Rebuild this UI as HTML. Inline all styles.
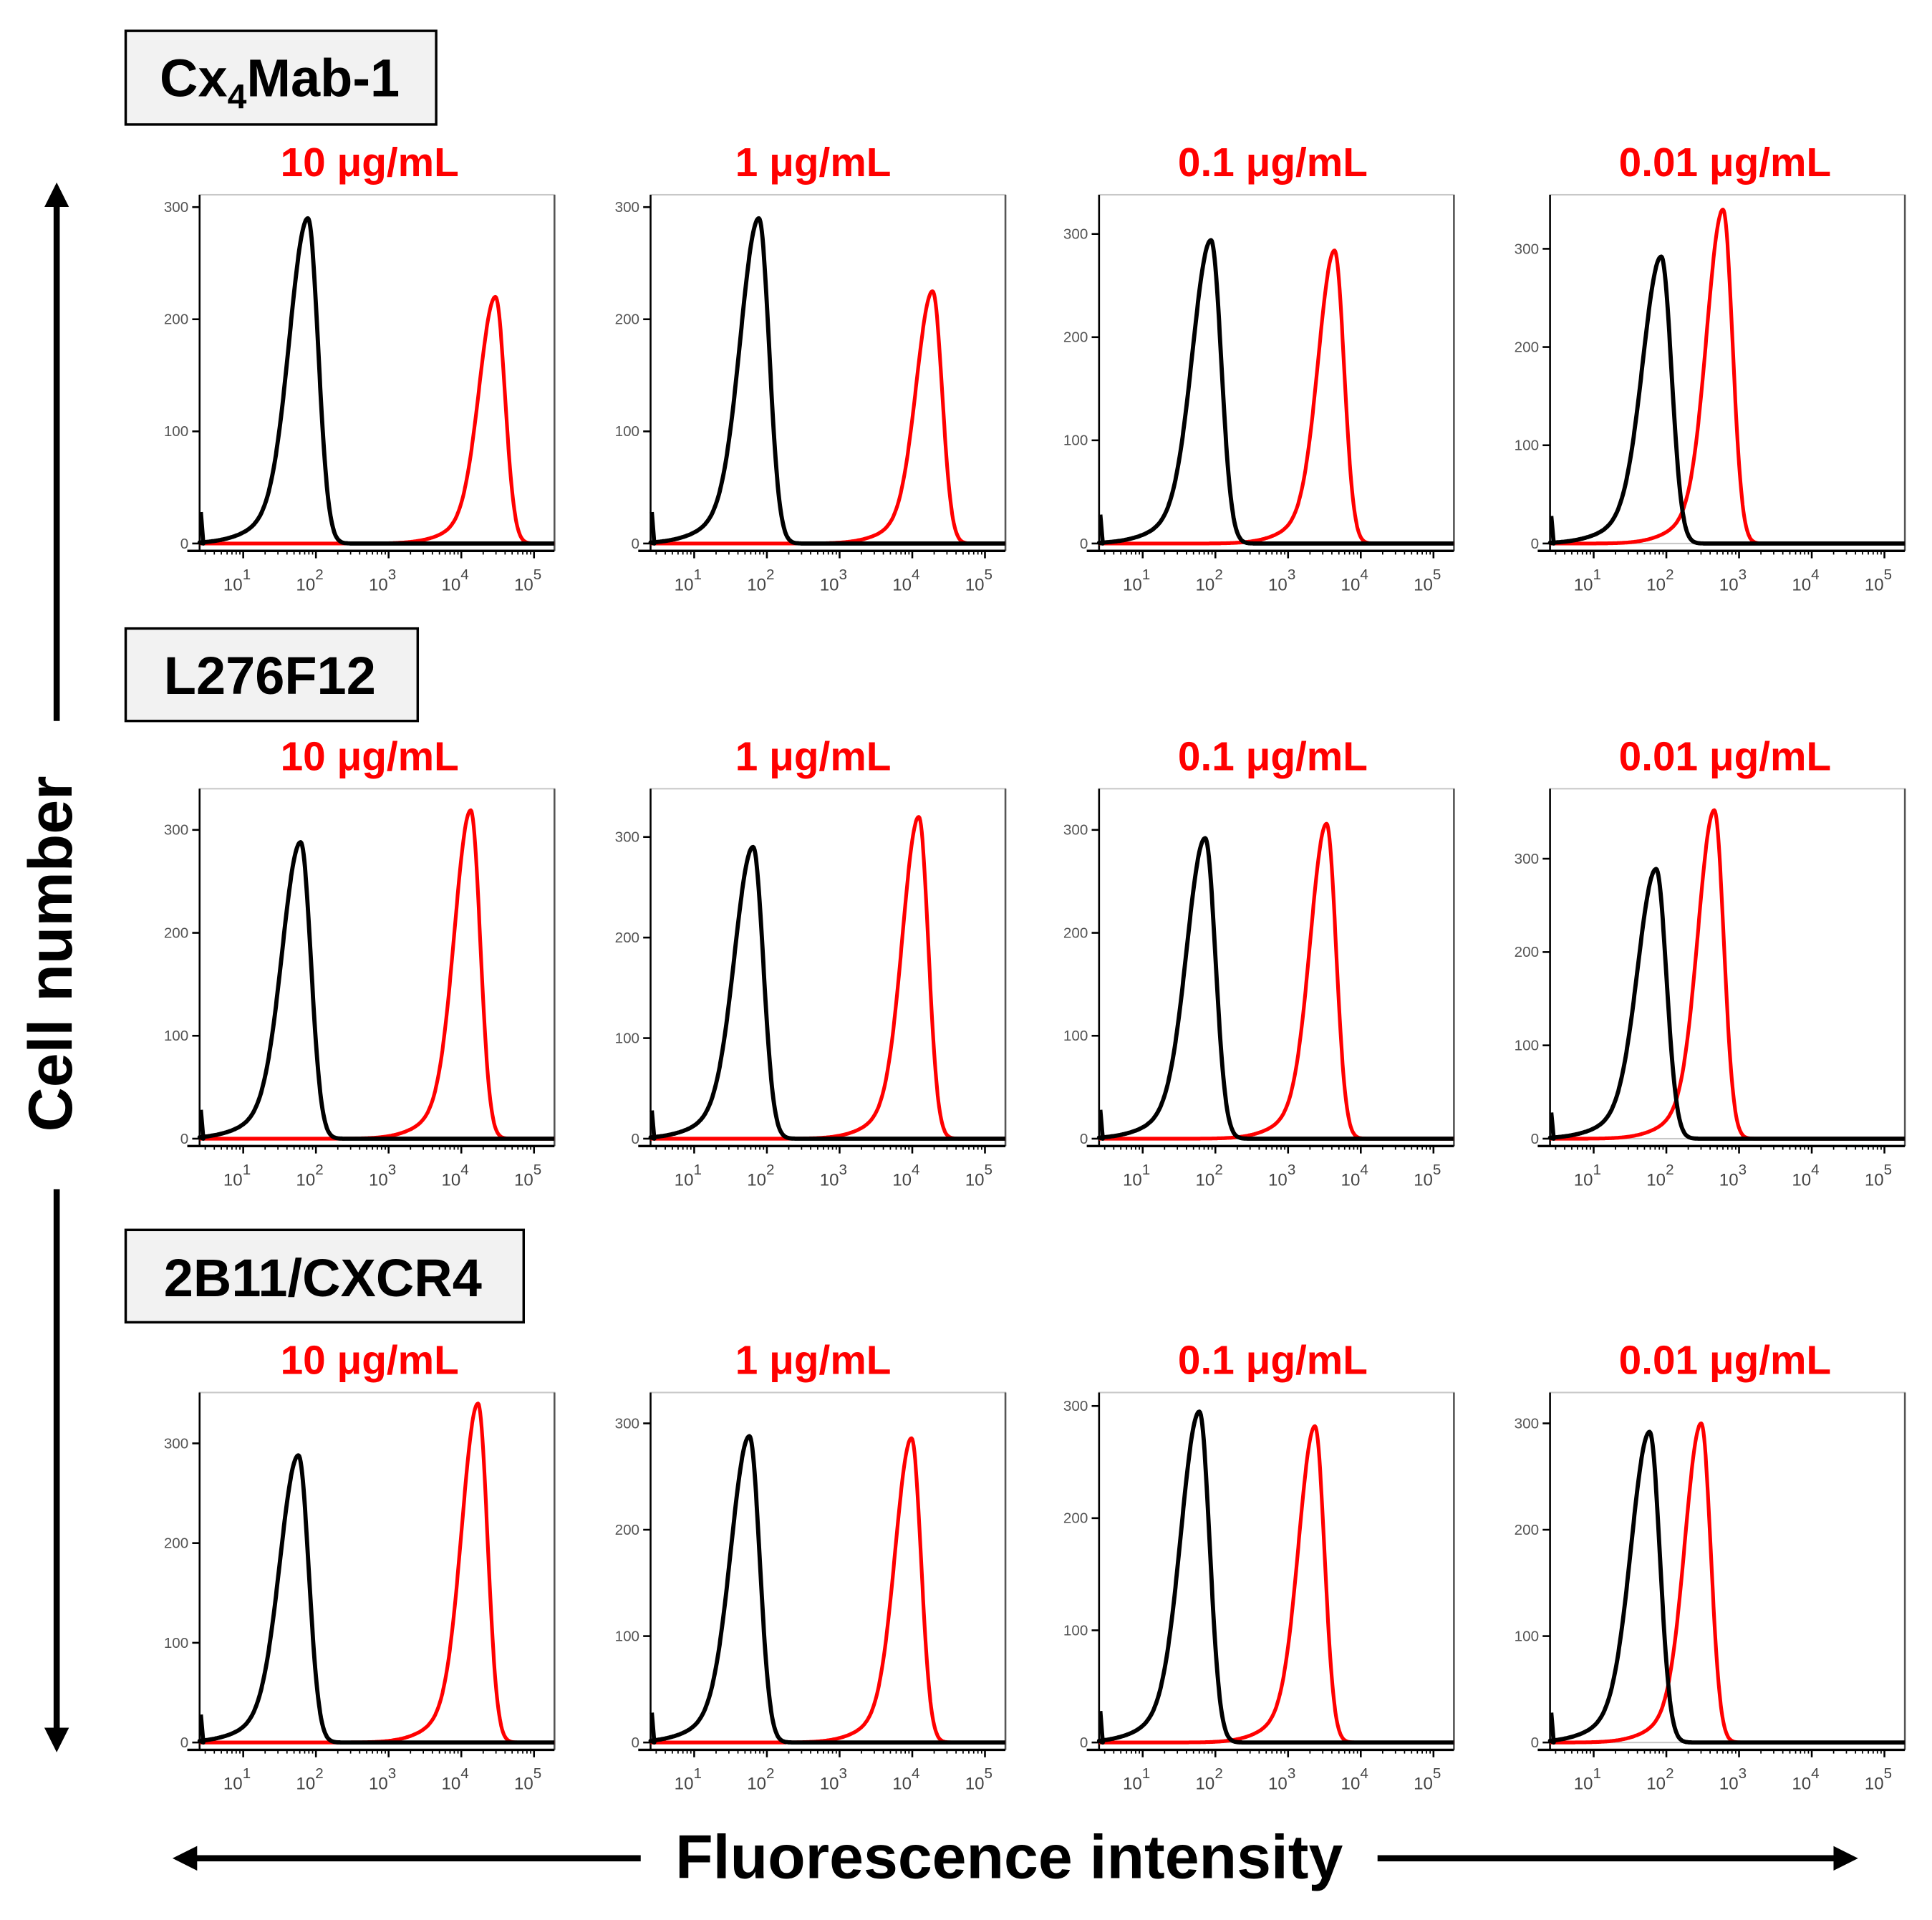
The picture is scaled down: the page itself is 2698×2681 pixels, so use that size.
<!DOCTYPE html>
<html><head><meta charset="utf-8"><style>
html,body{margin:0;padding:0;background:#fff}
svg{display:block}
text{font-family:"Liberation Sans",Arial,sans-serif}
</style></head><body>
<svg id="fig" width="2698" height="2681" viewBox="0 0 1568 1558" xmlns="http://www.w3.org/2000/svg">
<defs>
<marker id="ah" viewBox="0 0 10 10" refX="5" refY="5" markerWidth="4" markerHeight="4" orient="auto-start-reverse"><path d="M0,0 L10,5 L0,10 z" fill="#000"/></marker>
</defs>
<g>
<rect x="102" y="25" width="252" height="76" fill="#f2f2f2" stroke="#000" stroke-width="2"/>
<text x="227" y="78" text-anchor="middle" font-size="43" font-weight="bold">Cx<tspan font-size="28" dy="10">4</tspan><tspan dy="-10">Mab-1</tspan></text>
</g>
<g>
<rect x="102" y="510" width="237" height="75" fill="#f2f2f2" stroke="#000" stroke-width="2"/>
<text x="219" y="563" text-anchor="middle" font-size="43" font-weight="bold">L276F12</text>
</g>
<g>
<rect x="102" y="998" width="323" height="75" fill="#f2f2f2" stroke="#000" stroke-width="2"/>
<text x="262" y="1052" text-anchor="middle" font-size="43" font-weight="bold">2B11/CXCR4</text>
</g>
<g>
<line x1="46" y1="585" x2="46" y2="158" stroke="#000" stroke-width="5" marker-end="url(#ah)"/>
<line x1="46" y1="965" x2="46" y2="1412" stroke="#000" stroke-width="5" marker-end="url(#ah)"/>
<text transform="translate(58,774) rotate(-90)" text-anchor="middle" font-size="50" font-weight="bold">Cell number</text>
</g>
<g>
<line x1="520" y1="1508" x2="150" y2="1508" stroke="#000" stroke-width="5" marker-end="url(#ah)"/>
<line x1="1118" y1="1508" x2="1498" y2="1508" stroke="#000" stroke-width="5" marker-end="url(#ah)"/>
<text x="819" y="1524" text-anchor="middle" font-size="50" font-weight="bold">Fluorescence intensity</text>
</g>
<g id="panels"></g>
</svg>
<script>
const concentrations = ["10 μg/mL","1 μg/mL","0.1 μg/mL","0.01 μg/mL"];
const rowNames = ["cx4mab-1","l276f12","2b11-cxcr4"];
// per-panel y-axis top value (counts at top of plot frame)
const yMax = [[311,311,338,355],[340,348,340,375],[351,329,312,329]];
// control (black) peak: log10 position, height
const blackPos = [[1.89,1.89,1.94,1.93],[1.79,1.81,1.86,1.86],[1.76,1.76,1.78,1.77]];
const blackHeight = [[290,290,294,292],[288,290,292,289],[288,288,295,292]];
// stained (red) peak: log10 position, height
const redPos = [[4.47,4.28,3.64,2.78],[4.13,4.09,3.53,2.66],[4.23,3.99,3.37,2.48]];
const redHeight = [[220,225,284,340],[319,320,306,352],[340,286,282,300]];
const yTicks = [0,100,200,300];
const xDecades = [1,2,3,4,5];

const NS="http://www.w3.org/2000/svg";
const root=document.getElementById('panels');
const colX=[162,528,892,1258], rowTop=[158,640,1130], rowBase=[447,930,1420];
const W=288, decPx=59, logMin=0.4;
const titleY=[143,625,1115];
const titleX=[300,660,1033,1400];
function mk(tag,attrs,parent){const e=document.createElementNS(NS,tag);for(const k in attrs)e.setAttribute(k,attrs[k]);parent.appendChild(e);return e;}
function curve(pos,h,sl,sr){const pts=[];for(let l=logMin;l<=logMin+W/decPx;l+=0.01){let v;if(l<pos){const z=(l-pos)/sl;v=h*(0.88*Math.exp(-0.5*z*z)+0.12*Math.exp(-0.5*Math.pow((l-pos)/(sl*2.2),2)));}else{const z=(l-pos)/sr;v=h*Math.exp(-0.5*z*z);}pts.push([l,v]);}return pts;}
for(let r=0;r<3;r++){for(let c=0;c<4;c++){
  const x0=colX[c], top=rowTop[r], base=rowBase[r]-6, H=base-top;
  const xs=l=>x0+(l-logMin)*decPx;
  const ys=v=>base-v/yMax[r][c]*H;
  const g=mk('g',{},root);
  
  
  const t=mk('text',{x:titleX[c],y:titleY[r],'text-anchor':'middle','font-size':'33','font-weight':'bold',fill:'#ff0000'},g);
  t.textContent=concentrations[c];
  
  
  mk('rect',{x:x0,y:top,width:W,height:base-top,fill:'none',stroke:'#c8c8c8','stroke-width':1.2},g);
  mk('line',{x1:x0+W,y1:top,x2:x0+W,y2:base+6,stroke:'#555','stroke-width':1.5},g);
  mk('line',{x1:x0,y1:top,x2:x0,y2:base+6,stroke:'#000','stroke-width':1.5},g);
  mk('line',{x1:x0-10,y1:base+6,x2:x0+W,y2:base+6,stroke:'#000','stroke-width':2},g);
  yTicks.forEach(v=>{const y=ys(v);if(y<top-2)return;
    mk('line',{x1:x0-6,y1:y,x2:x0,y2:y,stroke:'#000','stroke-width':1.5},g);
    const tt=mk('text',{x:x0-9,y:y+4,'text-anchor':'end','font-size':'12',fill:'#555'},g);tt.textContent=v;
    
    });
  xDecades.forEach(d=>{const x=xs(d);
    mk('line',{x1:x,y1:base+6,x2:x,y2:base+12,stroke:'#000','stroke-width':1.5},g);
    for(let k=2;k<10;k++){const xm=xs(d-1+Math.log10(k));if(xm>x0)mk('line',{x1:xm,y1:base+6,x2:xm,y2:base+9,stroke:'#000','stroke-width':1},g);}
    const tt=mk('text',{x:x-5,y:base+38,'text-anchor':'middle','font-size':'14',fill:'#444'},g);
    tt.innerHTML='10<tspan dy="-9" font-size="12">'+d+'</tspan>';
    
    });
  const red=curve(redPos[r][c],redHeight[r][c],0.22,0.13);
  const rp=mk('path',{d:'M'+red.map(p=>xs(p[0]).toFixed(1)+','+ys(p[1]).toFixed(1)).join('L'),fill:'none',stroke:'#ff0000','stroke-width':3,'stroke-linejoin':'round'},g);
  
  
  const blk=curve(blackPos[r][c],blackHeight[r][c],0.25,0.14);
  let d='M'+(x0+1)+','+ys(28)+'L'+(x0+3)+','+ys(0);
  d+='L'+blk.map(p=>xs(p[0]).toFixed(1)+','+ys(p[1]).toFixed(1)).join('L');
  const bp=mk('path',{d:d,fill:'none',stroke:'#000','stroke-width':3.4,'stroke-linejoin':'round'},g);
  
  
}}
</script>
</body></html>
